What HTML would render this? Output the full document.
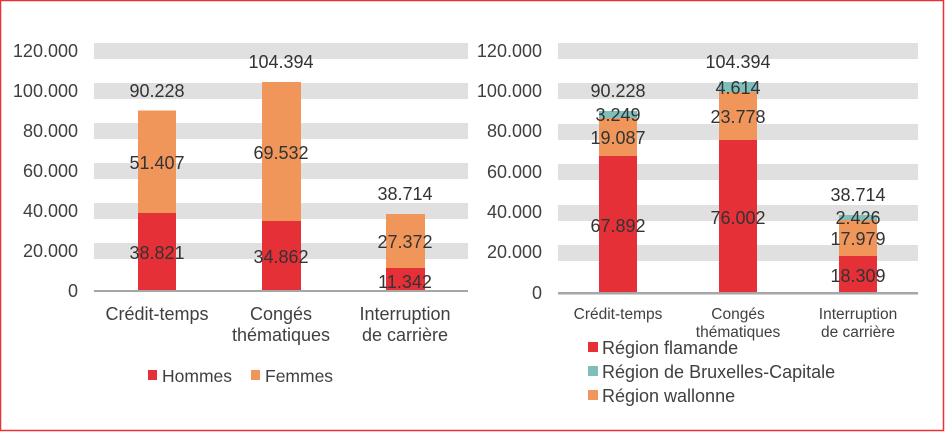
<!DOCTYPE html>
<html><head><meta charset="utf-8"><style>
html,body{margin:0;padding:0;background:#fff;}
svg{display:block;font-family:"Liberation Sans",Arial,sans-serif;}
</style></head><body>
<svg width="945" height="432" viewBox="0 0 945 432" xmlns="http://www.w3.org/2000/svg">
<rect x="0.5" y="0.5" width="943" height="430" fill="#fff" stroke="#e8323a" stroke-width="1.5"/>
<!-- LEFT CHART -->
<g fill="#e0e0e0">
<rect x="94" y="43" width="374" height="16"/>
<rect x="94" y="83" width="374" height="16"/>
<rect x="94" y="123" width="374" height="16"/>
<rect x="94" y="163" width="374" height="16"/>
<rect x="94" y="203" width="374" height="16"/>
<rect x="94" y="243" width="374" height="16"/>
</g>
<g font-size="18" fill="#404040" text-anchor="end">
<text x="78" y="57">120.000</text>
<text x="78" y="97">100.000</text>
<text x="78" y="137">80.000</text>
<text x="78" y="177">60.000</text>
<text x="78" y="217">40.000</text>
<text x="78" y="257">20.000</text>
<text x="78" y="297">0</text>
</g>
<g>
<rect x="138" y="213" width="38" height="78" fill="#e63037"/>
<rect x="138" y="110.5" width="38" height="102.5" fill="#f0965a"/>
<rect x="262" y="221" width="39" height="70" fill="#e63037"/>
<rect x="262" y="82" width="39" height="139" fill="#f0965a"/>
<rect x="386" y="268" width="39" height="23" fill="#e63037"/>
<rect x="386" y="214" width="39" height="54" fill="#f0965a"/>
</g>
<rect x="94" y="290" width="374" height="2" fill="#a6a6a6"/>
<g font-size="18" fill="#333" text-anchor="middle">
<text x="157" y="97">90.228</text>
<text x="157" y="169">51.407</text>
<text x="157" y="259">38.821</text>
<text x="281" y="68">104.394</text>
<text x="281" y="159">69.532</text>
<text x="281" y="263">34.862</text>
<text x="405" y="200">38.714</text>
<text x="405" y="248">27.372</text>
<text x="405" y="288">11.342</text>
</g>
<g font-size="18" fill="#404040" text-anchor="middle">
<text x="157" y="320">Crédit-temps</text>
<text x="281" y="320">Congés</text>
<text x="281" y="341">thématiques</text>
<text x="405" y="320">Interruption</text>
<text x="405" y="341">de carrière</text>
</g>
<rect x="148" y="370" width="9" height="10" fill="#e63037"/>
<text x="162" y="382" font-size="17.5" fill="#404040">Hommes</text>
<rect x="251" y="370" width="9" height="10" fill="#f0965a"/>
<text x="265" y="382" font-size="17.5" fill="#404040">Femmes</text>

<!-- RIGHT CHART -->
<g fill="#e0e0e0">
<rect x="558" y="43" width="360" height="16"/>
<rect x="558" y="83" width="360" height="16"/>
<rect x="558" y="124" width="360" height="16"/>
<rect x="558" y="164" width="360" height="16"/>
<rect x="558" y="205" width="360" height="16"/>
<rect x="558" y="245" width="360" height="16"/>
</g>
<g font-size="18" fill="#404040" text-anchor="end">
<text x="542" y="57">120.000</text>
<text x="542" y="97">100.000</text>
<text x="542" y="137">80.000</text>
<text x="542" y="178">60.000</text>
<text x="542" y="218">40.000</text>
<text x="542" y="258">20.000</text>
<text x="542" y="299">0</text>
</g>
<g>
<rect x="599" y="156" width="38" height="137" fill="#e63037"/>
<rect x="599" y="118" width="38" height="38" fill="#f0965a"/>
<rect x="599" y="111" width="38" height="7" fill="#7fbfbb"/>
<rect x="719" y="140" width="38" height="153" fill="#e63037"/>
<rect x="719" y="92" width="38" height="48" fill="#f0965a"/>
<rect x="719" y="82" width="38" height="10" fill="#7fbfbb"/>
<rect x="839" y="256" width="38" height="37" fill="#e63037"/>
<rect x="839" y="220" width="38" height="36" fill="#f0965a"/>
<rect x="839" y="215" width="38" height="5" fill="#7fbfbb"/>
</g>
<rect x="558" y="292" width="360" height="2.5" fill="#a6a6a6"/>
<g font-size="18" fill="#333" text-anchor="middle">
<text x="618" y="97">90.228</text>
<text x="618" y="121">3.249</text>
<text x="618" y="144">19.087</text>
<text x="618" y="232">67.892</text>
<text x="738" y="68">104.394</text>
<text x="738" y="94">4.614</text>
<text x="738" y="123">23.778</text>
<text x="738" y="224">76.002</text>
<text x="858" y="201">38.714</text>
<text x="858" y="224">2.426</text>
<text x="858" y="245">17.979</text>
<text x="858" y="282">18.309</text>
</g>
<g font-size="15.5" fill="#404040" text-anchor="middle">
<text x="618" y="319">Crédit-temps</text>
<text x="738" y="319">Congés</text>
<text x="738" y="337">thématiques</text>
<text x="858" y="319">Interruption</text>
<text x="858" y="337">de carrière</text>
</g>
<g font-size="18" fill="#404040">
<rect x="588" y="342" width="10" height="10" fill="#e63037"/>
<text x="602" y="354">Région flamande</text>
<rect x="588" y="366" width="10" height="10" fill="#7fbfbb"/>
<text x="602" y="378">Région de Bruxelles-Capitale</text>
<rect x="588" y="390" width="10" height="10" fill="#f0965a"/>
<text x="602" y="402">Région wallonne</text>
</g>
</svg>
</body></html>
